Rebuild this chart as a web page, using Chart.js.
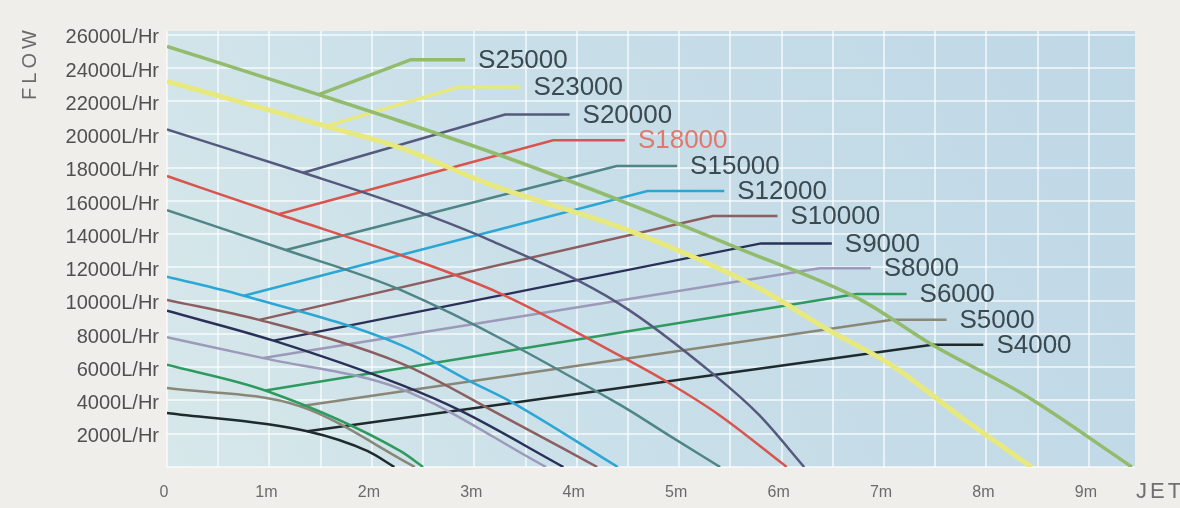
<!DOCTYPE html>
<html>
<head>
<meta charset="utf-8">
<title>Pump flow vs jet</title>
<script src="https://cdn.jsdelivr.net/npm/chart.js@4.4.1/dist/chart.umd.min.js"></script>
<style>
  html, body { margin: 0; padding: 0; background: #efeeeb; }
  #wrap { width: 1180px; height: 508px; }
</style>
</head>
<body>
<div id="wrap"><canvas id="pumpChart" width="1180" height="508"></canvas></div>
<script>
// Pump names, top to bottom
const pumpNames = ['S25000', 'S23000', 'S20000', 'S18000', 'S15000', 'S12000',
                   'S10000', 'S9000', 'S8000', 'S6000', 'S5000', 'S4000'];

// Curves: [jet (m), flow (L/Hr)]
const curveS25000 = [[0, 25300], [1.48, 22400], [2.18, 21000], [3.32, 18600], [4.52, 15800],
                     [5.56, 13200], [6.76, 10100], [7.47, 7350], [8.38, 4300], [9.42, 0]];
const curveS23000 = [[0, 23200], [1.55, 20500], [2.28, 19200], [3.15, 17000], [4.52, 14200],
                     [5.78, 10750], [6.44, 8300], [7.08, 6100], [7.73, 3100], [8.44, 0]];
const curveS20000 = [[0, 20300], [1.33, 17700], [2.28, 15750], [3.15, 13650], [4.42, 9800],
                     [5.36, 5450], [5.78, 3130], [6.22, 0]];
const curveS18000 = [[0, 17500], [1.09, 15200], [2.28, 12750], [3.25, 10450], [4.42, 6700],
                     [4.9, 5050], [5.39, 3130], [6.05, 0]];
const curveS15000 = [[0, 15450], [1.16, 13050], [2.28, 10650], [4.42, 3750], [4.9, 1900], [5.4, 0]];
const curveS12000 = [[0, 11450], [0.75, 10300], [2.28, 7350], [2.96, 5150], [3.35, 3950], [4.4, 0]];
const curveS10000 = [[0, 10050], [0.9, 8850], [2.28, 6250], [3.25, 3150], [4.2, 0]];
const curveS9000  = [[0, 9400], [1.04, 7600], [2.28, 4950], [2.86, 3400], [3.87, 0]];
const curveS8000  = [[0, 7800], [0.94, 6550], [2.28, 4700], [3.7, 0]];
const curveS6000  = [[0, 6150], [0.96, 4600], [2.28, 950], [2.5, 0]];
const curveS5000  = [[0, 4750], [1.3, 3650], [2.42, 0]];
const curveS4000  = [[0, 3250], [1.37, 2150], [1.96, 950], [2.22, 0]];

const pumpCurves = [curveS25000, curveS23000, curveS20000, curveS18000, curveS15000, curveS12000,
                    curveS10000, curveS9000, curveS8000, curveS6000, curveS5000, curveS4000];

// Label leaders: start on curve, kink, then flat to the label
const leaderFromJet  = [1.48, 1.55, 1.33, 1.09, 1.16, 0.75, 0.90, 1.04, 0.94, 0.96, 1.30, 1.37];
const leaderFromFlow = [22400, 20500, 17700, 15200, 13050, 10300, 8850, 7600, 6550, 4600, 3650, 2150];
const leaderKinkJet  = [2.38, 2.85, 3.30, 3.77, 4.39, 4.69, 5.33, 5.80, 6.37, 6.73, 7.08, 7.47];
const labelFlow      = [24500, 22850, 21200, 19650, 18100, 16600, 15100, 13450, 11950, 10400, 8850, 7350];
const leaderEndJet   = [2.91, 3.45, 3.93, 4.47, 4.98, 5.44, 5.96, 6.49, 6.87, 7.22, 7.61, 7.97];

// Axis ticks / grid
const jetGrid = [0, 0.5, 1, 1.5, 2, 2.5, 3, 3.5, 4, 4.5, 5, 5.5, 6, 6.5, 7, 7.5, 8, 8.5, 9];
const jetLabels = [0, 1, 2, 3, 4, 5, 6, 7, 8, 9];
const flowTicks = [0, 2000, 4000, 6000, 8000, 10000, 12000, 14000, 16000, 18000, 20000, 22000, 24000, 26000];

// Styles
const pumpColors = ['#92bb6c', '#e8e97c', '#56597e', '#d9544c', '#4f8587', '#2ba6d5',
                    '#8c5e5f', '#2b3058', '#9c99ba', '#2f9a5f', '#8a8777', '#1f2a2d'];
const pumpWidths = [3.5, 5, 2.5, 2.5, 2.5, 2.5, 2.5, 2.5, 2.5, 2.5, 2.5, 2.5];
const labelColors = pumpNames.map(n => n === 'S18000' ? '#e0796d' : '#3b4950');
const fontFamily = '"Liberation Sans", Arial, sans-serif';

const datasets = [];
pumpNames.forEach((name, i) => {
    datasets.push({
        label: name,
        data: pumpCurves[i].map(p => ({ x: p[0], y: p[1] })),
        borderColor: pumpColors[i],
        borderWidth: pumpWidths[i],
        pointRadius: 0,
        cubicInterpolationMode: 'monotone',
        fill: false
    });
    datasets.push({
        label: name + ' leader',
        data: [
            { x: leaderFromJet[i], y: leaderFromFlow[i] },
            { x: leaderKinkJet[i], y: labelFlow[i] },
            { x: leaderEndJet[i], y: labelFlow[i] }
        ],
        borderColor: pumpColors[i],
        borderWidth: Math.min(pumpWidths[i], 3.5),
        pointRadius: 0,
        tension: 0,
        fill: false
    });
});

// Plot background
const plotBackground = {
    id: 'plotBackground',
    beforeDraw(chart) {
        const { ctx, chartArea: a } = chart;
        const g = ctx.createLinearGradient(a.right, a.top, a.left, a.bottom);
        g.addColorStop(0, '#bfd8e6');
        g.addColorStop(0.6, '#c9dfe9');
        g.addColorStop(1, '#d7e8ea');
        ctx.save();
        ctx.fillStyle = g;
        ctx.fillRect(a.left, a.top, a.right - a.left, a.bottom - a.top);
        ctx.restore();
    }
};

// Pump name labels at the end of each leader
const pumpLabels = {
    id: 'pumpLabels',
    afterDatasetsDraw(chart) {
        const { ctx, scales } = chart;
        ctx.save();
        ctx.font = '26px ' + fontFamily;
        ctx.textBaseline = 'middle';
        ctx.textAlign = 'left';
        pumpNames.forEach((name, i) => {
            const x = scales.x.getPixelForValue(leaderEndJet[i]) + 13;
            const y = scales.y.getPixelForValue(labelFlow[i]) + 1;
            ctx.fillStyle = labelColors[i];
            ctx.fillText(name, x, y);
        });
        ctx.restore();
    }
};

// Axis titles: FLOW (rotated, top left) and JET (bottom right)
const axisTitles = {
    id: 'axisTitles',
    afterDraw(chart) {
        const { ctx } = chart;
        ctx.save();
        ctx.fillStyle = '#6a6a6a';
        ctx.font = '20px ' + fontFamily;
        ctx.textBaseline = 'middle';
        ctx.textAlign = 'center';
        ctx.letterSpacing = '4px';
        ctx.translate(30, 65);
        ctx.rotate(-Math.PI / 2);
        ctx.fillText('FLOW', 2, 0);
        ctx.restore();

        ctx.save();
        ctx.fillStyle = '#707070';
        ctx.font = '22px ' + fontFamily;
        ctx.textBaseline = 'middle';
        ctx.textAlign = 'left';
        ctx.letterSpacing = '3px';
        ctx.fillText('JET', 1136, 492);
        ctx.restore();
    }
};

new Chart(document.getElementById('pumpChart'), {
    type: 'line',
    data: { datasets },
    options: {
        responsive: false,
        animation: false,
        layout: { padding: { top: 31, right: 45, left: 0, bottom: 0 } },
        plugins: {
            legend: { display: false },
            tooltip: { enabled: false }
        },
        scales: {
            x: {
                type: 'linear',
                min: 0,
                max: 9.45,
                afterBuildTicks: s => { s.ticks = jetGrid.map(v => ({ value: v })); },
                afterFit: s => { s.height = 41; },
                border: { display: false },
                grid: { color: 'rgba(255,255,255,0.6)', lineWidth: 2, drawTicks: false },
                ticks: {
                    autoSkip: false,
                    maxRotation: 0,
                    padding: 16,
                    labelOffset: -3,
                    color: '#6b6b6b',
                    font: { size: 16, family: fontFamily },
                    callback: v => jetLabels.includes(v) ? (v === 0 ? '0' : v + 'm') : ''
                }
            },
            y: {
                type: 'linear',
                min: 0,
                max: 26225,
                afterBuildTicks: s => { s.ticks = flowTicks.map(v => ({ value: v })); },
                afterFit: s => { s.width = 167; },
                border: { display: false },
                grid: { color: 'rgba(255,255,255,0.6)', lineWidth: 2, drawTicks: false },
                ticks: {
                    autoSkip: false,
                    padding: 8,
                    labelOffset: 3,
                    color: '#505050',
                    font: { size: 20, family: fontFamily },
                    callback: v => v === 0 ? '' : v + 'L/Hr'
                }
            }
        }
    },
    plugins: [plotBackground, pumpLabels, axisTitles]
});
</script>
</body>
</html>
